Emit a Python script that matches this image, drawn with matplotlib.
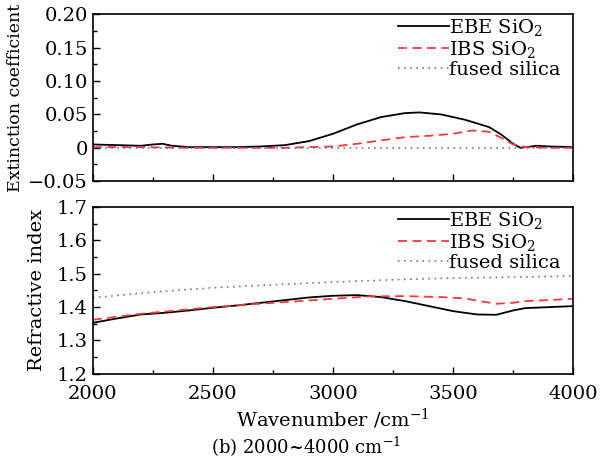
import matplotlib
matplotlib.use('Agg')
import matplotlib.pyplot as plt
from matplotlib.ticker import MultipleLocator, FuncFormatter

plt.rcParams['font.family'] = ['DejaVu Serif']
plt.rcParams['mathtext.fontset'] = 'dejavuserif'

# Extinction coefficient data
wn_k_ebe = [2000, 2100, 2200, 2250, 2290, 2330, 2400, 2500, 2600, 2700, 2800, 2900,
            3000, 3100, 3200, 3300, 3360, 3450, 3550, 3650, 3700, 3750, 3780, 3850, 3900, 4000]
k_ebe = [0.005, 0.004, 0.003, 0.005, 0.006, 0.003, 0.001, 0.001, 0.001, 0.002, 0.004, 0.010,
         0.021, 0.035, 0.046, 0.052, 0.053, 0.050, 0.042, 0.031, 0.020, 0.006, 0.000, 0.003, 0.002, 0.001]

wn_k_ibs = [2000, 2200, 2400, 2600, 2800, 2900, 3000, 3100, 3200, 3300, 3400, 3500,
            3580, 3650, 3700, 3750, 3800, 3900, 4000]
k_ibs = [0.001, 0.001, 0.000, 0.000, 0.000, 0.001, 0.002, 0.006, 0.011, 0.016, 0.018, 0.021,
         0.026, 0.024, 0.015, 0.005, 0.001, 0.000, 0.000]

wn_k_fs = [2000, 2500, 3000, 3500, 4000]
k_fs = [0.0, 0.0, 0.0, 0.0, 0.0]

# Refractive index data
wn_n_ebe = [2000, 2100, 2200, 2300, 2400, 2500, 2600, 2700, 2800, 2900, 3000, 3100,
            3200, 3300, 3400, 3500, 3600, 3680, 3750, 3800, 3900, 4000]
n_ebe = [1.353, 1.366, 1.378, 1.383, 1.390, 1.398, 1.405, 1.413, 1.421, 1.429, 1.434, 1.436,
         1.430, 1.418, 1.403, 1.388, 1.378, 1.377, 1.390, 1.397, 1.400, 1.403]

wn_n_ibs = [2000, 2100, 2200, 2350, 2500, 2650, 2800, 3000, 3150, 3300, 3450, 3550,
            3620, 3680, 3750, 3800, 3900, 4000]
n_ibs = [1.362, 1.371, 1.380, 1.390, 1.400, 1.408, 1.415, 1.425, 1.432, 1.433, 1.430, 1.426,
         1.417, 1.410, 1.413, 1.418, 1.421, 1.425]

wn_n_fs = [2000, 2250, 2500, 2750, 3000, 3250, 3500, 3750, 4000]
n_fs = [1.428, 1.445, 1.458, 1.467, 1.475, 1.482, 1.487, 1.490, 1.493]

labels = ['EBE SiO$_2$', 'IBS SiO$_2$', 'fused silica']
RED = '#f03a3a'
BLUE = '#4a63c8'

fig = plt.figure(figsize=(6.11, 4.61), dpi=100)
ax1 = fig.add_axes([0.152, 0.607, 0.786, 0.362])
ax2 = fig.add_axes([0.152, 0.189, 0.786, 0.362])


def style_axis(ax, ymaj, ymin):
    ax.set_xlim(2000, 4000)
    ax.xaxis.set_major_locator(MultipleLocator(500))
    ax.xaxis.set_minor_locator(MultipleLocator(250))
    ax.yaxis.set_major_locator(MultipleLocator(ymaj))
    ax.yaxis.set_minor_locator(MultipleLocator(ymin))
    ax.tick_params(which='both', direction='in', top=False, right=False, labelsize=14)
    ax.tick_params(axis='x', pad=8)
    ax.tick_params(which='major', length=5, width=1)
    ax.tick_params(which='minor', length=3, width=1)
    for s in ax.spines.values():
        s.set_linewidth(1.2)


def add_legend(ax):
    ax.legend(loc='upper right', bbox_to_anchor=(0.99, 1.03), frameon=False, fontsize=14,
              handlelength=2.6, handletextpad=0.0, labelspacing=0.05, borderaxespad=0.0)


ax1.plot(wn_k_ebe, k_ebe, color='black', lw=1.3, label=labels[0])
ax1.plot(wn_k_ibs, k_ibs, color=RED, lw=1.3, ls=(0, (5, 3)), label=labels[1])
ax1.plot(wn_k_fs, k_fs, color=BLUE, lw=1.1, ls=(0, (1, 3)), label=labels[2])
style_axis(ax1, 0.05, 0.025)
ax1.set_ylim(-0.05, 0.20)
ax1.yaxis.set_major_formatter(FuncFormatter(
    lambda v, p: '0' if abs(v) < 1e-9 else ('\u22120.05' if v < 0 else f'{v:.2f}')))
ax1.set_xticklabels([])
ax1.set_ylabel('Extinction coefficient', fontsize=12.5, labelpad=3)
add_legend(ax1)

ax2.plot(wn_n_ebe, n_ebe, color='black', lw=1.3, label=labels[0])
ax2.plot(wn_n_ibs, n_ibs, color=RED, lw=1.3, ls=(0, (5, 3)), label=labels[1])
ax2.plot(wn_n_fs, n_fs, color=BLUE, lw=1.1, ls=(0, (1, 3)), label=labels[2])
style_axis(ax2, 0.1, 0.05)
ax2.set_ylim(1.2, 1.7)
ax2.yaxis.set_major_formatter(FuncFormatter(lambda v, p: f'{v:.1f}'))
ax2.set_ylabel('Refractive index', fontsize=14, labelpad=8)
ax2.set_xlabel('Wavenumber /cm$^{-1}$', fontsize=14, labelpad=3)
add_legend(ax2)

fig.text(0.5, 0.03, '(b) 2000~4000 cm$^{-1}$', ha='center', va='center', fontsize=13)

fig.savefig('out.png', dpi=100)
